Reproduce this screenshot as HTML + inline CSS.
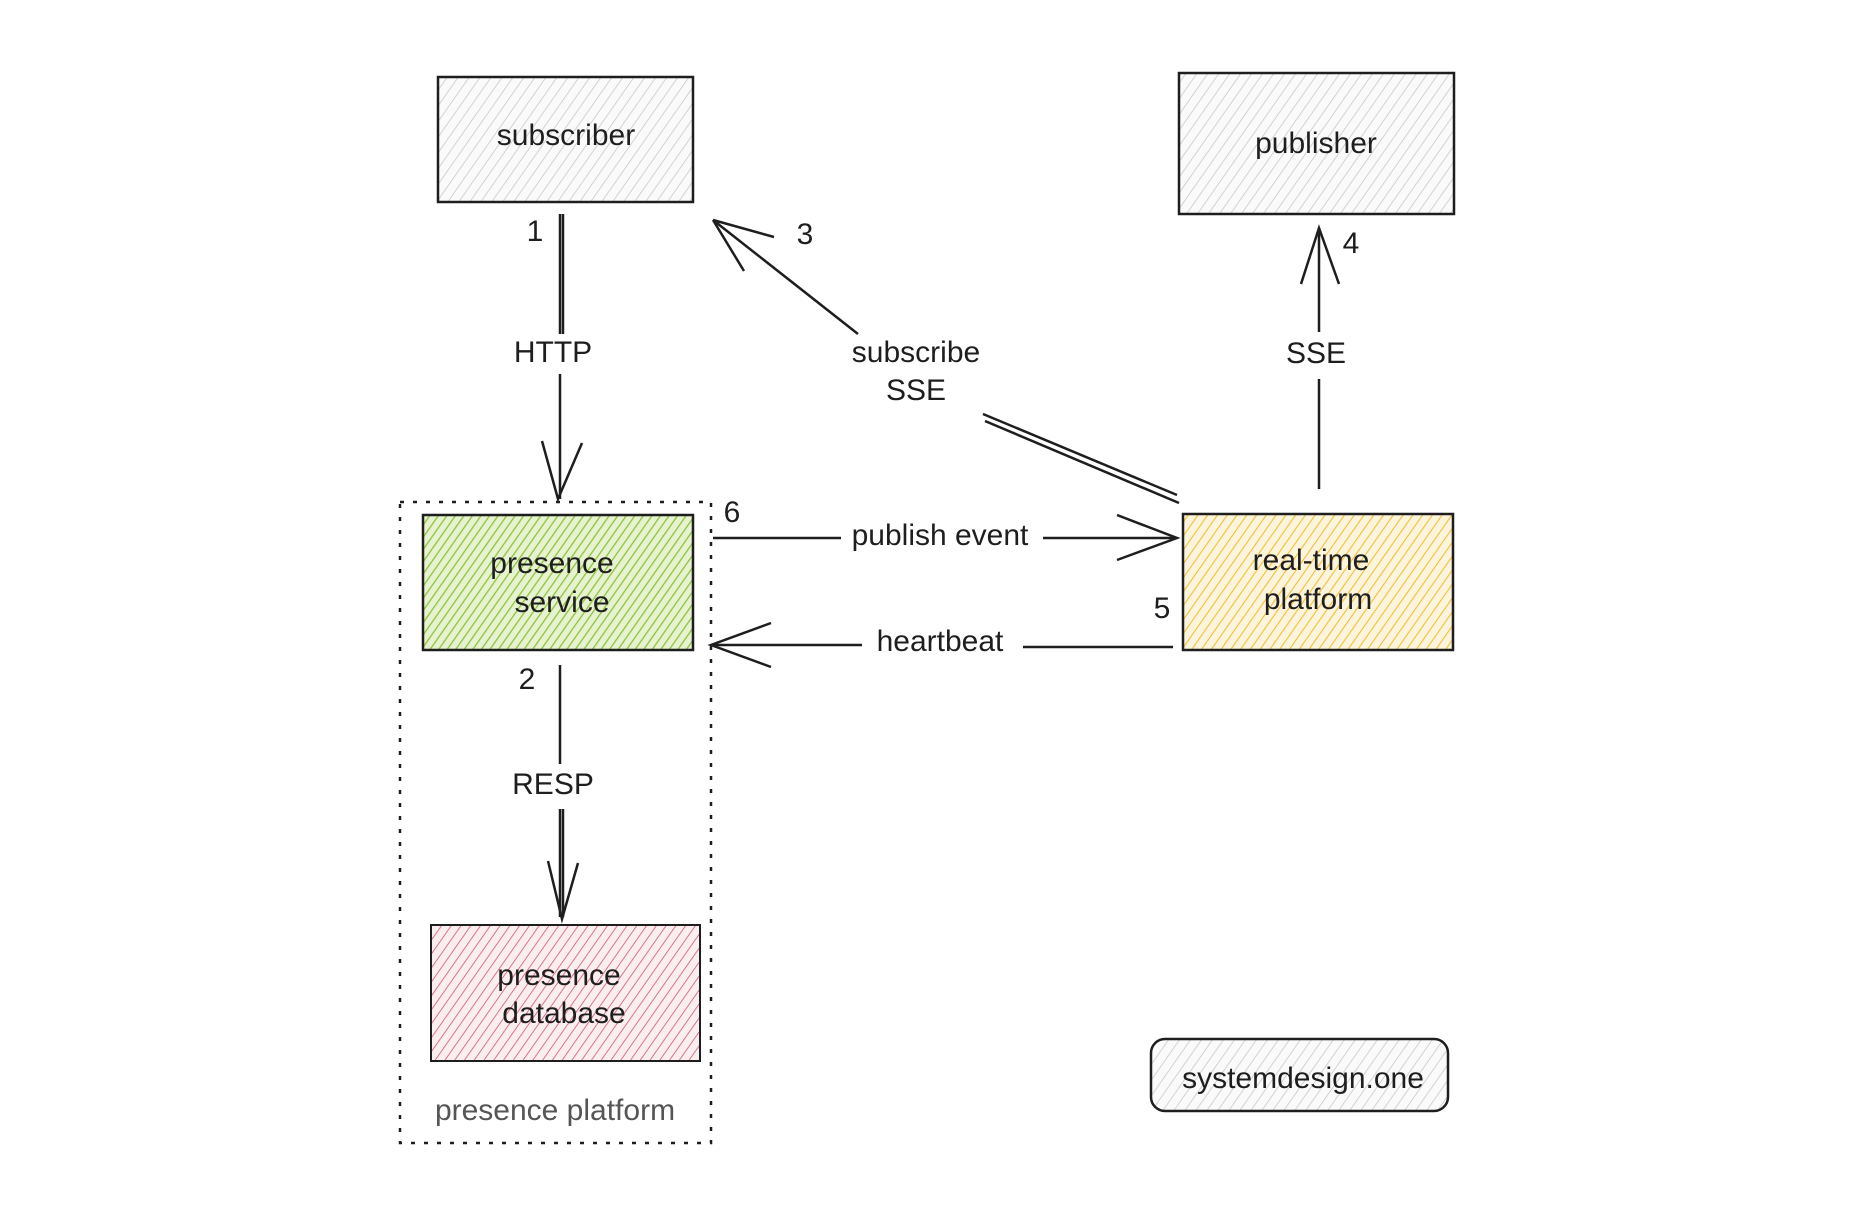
<!DOCTYPE html>
<html><head><meta charset="utf-8"><style>
html,body{margin:0;padding:0;background:#fff;}
svg{display:block}
text{font-family:"Liberation Sans",sans-serif;fill:#1e1e1e;text-anchor:middle;dominant-baseline:middle}
</style></head><body>
<svg width="1864" height="1205" viewBox="0 0 1864 1205" xmlns="http://www.w3.org/2000/svg">
<defs>
<pattern id="gray" width="9" height="9" patternUnits="userSpaceOnUse" patternTransform="rotate(35)"><rect width="9" height="9" fill="#fafafa"/><line x1="0" y1="0" x2="0" y2="9" stroke="#c9c9cc" stroke-width="1.6"/></pattern>
<pattern id="green" width="7" height="7" patternUnits="userSpaceOnUse" patternTransform="rotate(35)"><rect width="7" height="7" fill="#e6f2d0"/><line x1="0" y1="0" x2="0" y2="7" stroke="#8cc43c" stroke-width="2.6"/></pattern>
<pattern id="yellow" width="8" height="8" patternUnits="userSpaceOnUse" patternTransform="rotate(35)"><rect width="8" height="8" fill="#fdf4dc"/><line x1="0" y1="0" x2="0" y2="8" stroke="#f0c040" stroke-width="2.2"/></pattern>
<pattern id="red" width="8" height="8" patternUnits="userSpaceOnUse" patternTransform="rotate(35)"><rect width="8" height="8" fill="#fbeef0"/><line x1="0" y1="0" x2="0" y2="8" stroke="#d0586f" stroke-width="1.6"/></pattern>
</defs>
<g transform="translate(-4,-1)">
<g stroke="#1e1e1e" stroke-width="2.5" fill="none">
<rect x="442" y="78" width="255" height="125" fill="url(#gray)"/>
<rect x="1183" y="74" width="275" height="141" fill="url(#gray)"/>
<rect x="427" y="516" width="270" height="135" fill="url(#green)"/>
<rect x="1187" y="515" width="270" height="136" fill="url(#yellow)"/>
<rect x="435" y="926" width="269" height="136" fill="url(#red)" stroke-width="2"/>
<rect x="1155" y="1040" width="297" height="72" rx="14" fill="url(#gray)"/>
<rect x="404" y="503" width="311" height="641" stroke-width="2.5" stroke-dasharray="4,9"/>
<path d="M564 215 V335 M564 375 V500 M567 215 V335"/>
<path d="M546 442 L562 500 L586 444" />
<path d="M564 666 V765 M564 810 V918 M567 810 V918"/>
<path d="M552 862 L566 920 L582 864"/>
<path d="M862 335 L717 221"/>
<path d="M1181 496 L987 415 M1183 504 L989 422"/>
<path d="M717 221 L748 272 M717 221 L778 238"/>
<path d="M1323 490 V380 M1323 333 V229"/>
<path d="M1305 285 L1323 229 L1343 285"/>
<path d="M717 539 H845 M1047 539 H1181"/>
<path d="M1121 516 L1181 539 L1121 561"/>
<path d="M1177 648 H1027 M866 646 H715"/>
<path d="M775 624 L715 646 L775 668"/>
</g>
<g font-size="30">
<text x="570" y="138">subscriber</text>
<text x="1320" y="146">publisher</text>
<text x="556" y="566">presence</text>
<text x="566" y="605">service</text>
<text x="1315" y="563">real-time</text>
<text x="1322" y="602">platform</text>
<text x="563" y="978">presence</text>
<text x="568" y="1016">database</text>
<text x="1307" y="1081">systemdesign.one</text>
<text x="557" y="355">HTTP</text>
<text x="557" y="787">RESP</text>
<text x="920" y="355">subscribe</text>
<text x="920" y="393">SSE</text>
<text x="1320" y="356">SSE</text>
<text x="944" y="538">publish event</text>
<text x="944" y="644">heartbeat</text>
<text x="559" y="1113" style="fill:#555">presence platform</text>
<text x="539" y="234">1</text>
<text x="809" y="237">3</text>
<text x="1355" y="246">4</text>
<text x="736" y="515">6</text>
<text x="1166" y="611">5</text>
<text x="531" y="682">2</text>
</g>
</g>
</svg>
</body></html>
